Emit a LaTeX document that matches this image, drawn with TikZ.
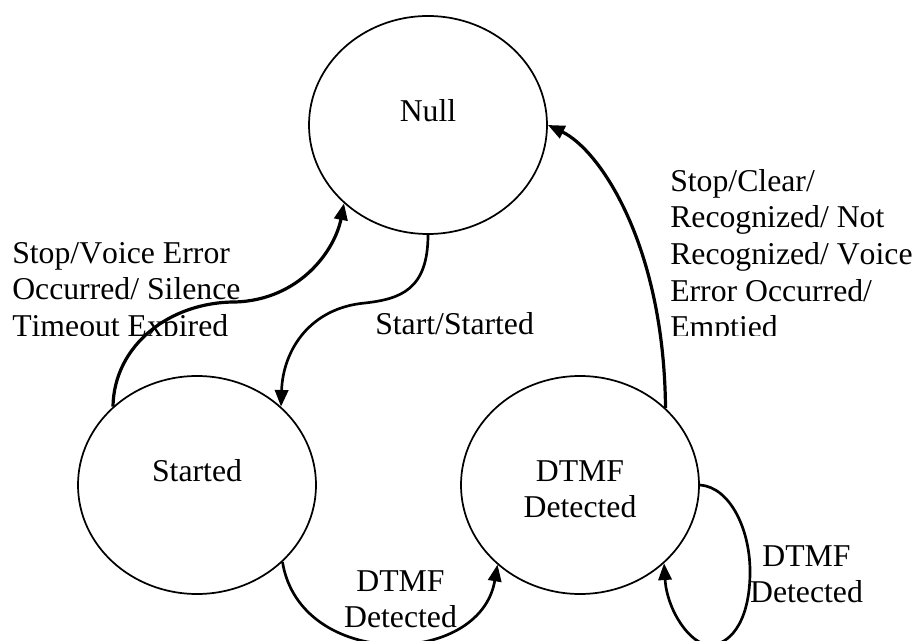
\documentclass[tikz,border=0pt]{standalone}
\usepackage{fontspec}
\setmainfont{Liberation Serif}[Kerning=Off]
\usetikzlibrary{arrows.meta,shapes.geometric}
\begin{document}
\begin{tikzpicture}[x=0.75pt,y=-0.75pt,
  state/.style={ellipse,draw,line width=1.3pt,minimum width=178.5pt,minimum height=163.5pt,inner sep=0pt},
  txt/.style={font=\fontsize{23.8pt}{27.5pt}\selectfont,inner sep=0pt,text=black},
  thickedge/.style={line width=2.4pt,-{Triangle[length=12.5pt,width=10pt]}},
  edge/.style={line width=2pt,-{Triangle[length=12.5pt,width=10pt]}}]
\useasboundingbox (0,0) rectangle (915,641);
% states
\node[state] (null) at (428,125) {};
\node[state] (started) at (197,485) {};
\node[state] (dtmf) at (580,485) {};
\node[txt,anchor=base] (nullt) at (428,121.5) {Null};
\node[txt,anchor=base] (startedt) at (197,481.5) {Started};
\node[txt,anchor=base,align=center] (dtmft) at (580,518) {DTMF\\Detected};
% labels (base anchor = last line's baseline)
\begin{scope}
\clip (0,0) rectangle (915,336);
\node[txt,anchor=base west,align=left] (lab1) at (12,336.4) {Stop/Voice Error\\Occurred/ Silence\\Timeout Expired};
\node[txt,anchor=base west,align=left] (lab2) at (670,338) {Stop/Clear/\\Recognized/ Not\\Recognized/ Voice\\Error Occurred/\\Emptied};
\end{scope}
\node[txt,anchor=base west] (lab3) at (375,335) {Start/Started};
\node[txt,anchor=base,align=center] (lab4) at (400.5,628) {DTMF\\Detected};
\node[txt,anchor=base,align=center] (lab5) at (806.5,603) {DTMF\\Detected};
% edges
\draw[thickedge] (started.137) .. controls (114,345) and (170,302) .. (235,302)
  .. controls (300,300) and (335,250) .. (null.223);
\draw[edge] (null.south) .. controls (428,290) and (400,299) .. (365,303)
  .. controls (310,308) and (283,350) .. (started.43);
\draw[thickedge] (dtmf.42.5) .. controls (664,245) and (600,150) .. (null.east);
\draw[edge] (started.-42) .. controls (300,670) and (480,668) .. (dtmf.224);
\draw[edge] (dtmf.east) .. controls (730,487) and (751,530) .. (750,575)
  .. controls (749,625) and (728,645) .. (710,645)
  .. controls (690,645) and (667,610) .. (dtmf.-43);
\end{tikzpicture}
\end{document}
